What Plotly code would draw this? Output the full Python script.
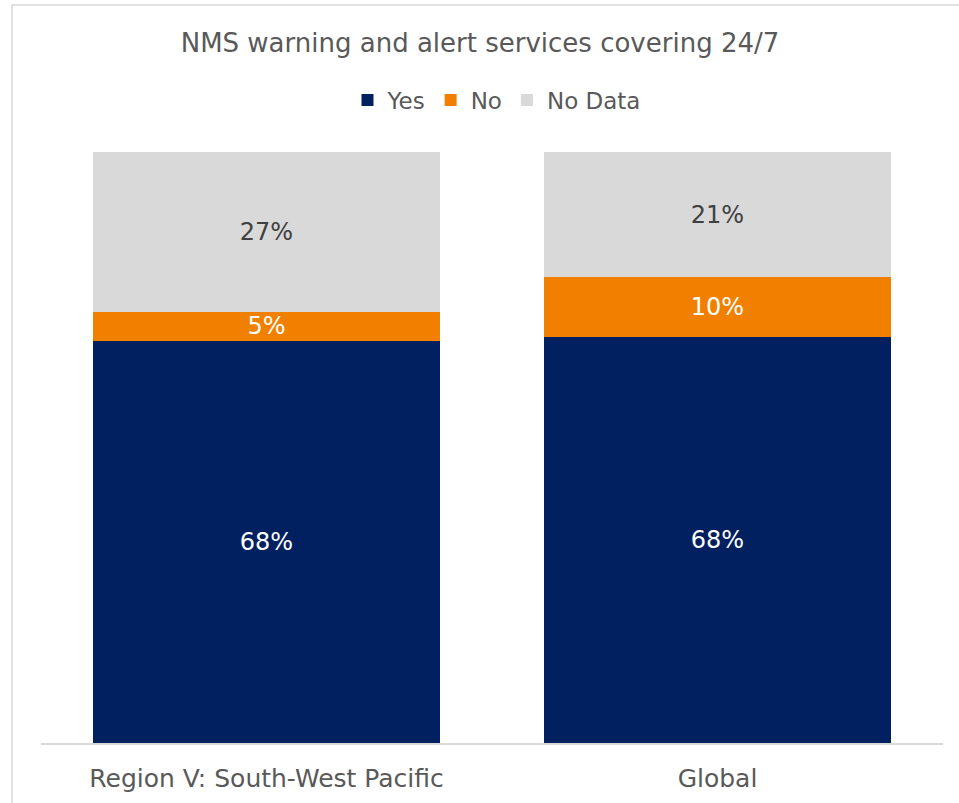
import plotly.graph_objects as go

categories = ["Region V: South-West Pacific", "Global"]
yes_vals = [68, 68]
no_vals = [5, 10]
nodata_vals = [27, 21]
series_names = ["Yes", "No", "No Data"]

colors = ["#002060", "#F28000", "#D9D9D9"]
text_colors = ["#FFFFFF", "#FFFFFF", "#404040"]
FONT = "DejaVu Sans"

fig = go.Figure()
for name, vals, c, tc in zip(series_names, [yes_vals, no_vals, nodata_vals], colors, text_colors):
    fig.add_trace(go.Bar(
        name=name, x=categories, y=vals,
        marker=dict(color=c, line=dict(width=0)),
        text=[f"{v}%" for v in vals], texttemplate="%{text}",
        textposition="inside", insidetextanchor="middle", textangle=0,
        constraintext="none",
        textfont=dict(family=FONT, size=24, color=tc),
        hoverinfo="skip",
    ))

L, R, T, B = 41, 16, 152, 60
W, H = 959, 803
pw, ph = W - L - R, H - T - B

fig.update_layout(
    width=W, height=H,
    barmode="stack", barnorm="percent", bargap=0.23,
    margin=dict(l=L, r=R, t=T, b=B, autoexpand=False),
    paper_bgcolor="white", plot_bgcolor="white",
    font=dict(family=FONT, color="#595959"),
    title=dict(text="NMS warning and alert services covering 24/7",
               x=480 / W, xanchor="center", xref="container",
               y=1 - 43 / H, yanchor="middle", yref="container",
               font=dict(family=FONT, size=26, color="#595959")),
    legend=dict(orientation="h", x=(496.5 - L) / pw, xanchor="center",
                y=(H - B - 100) / ph, yanchor="middle",
                font=dict(family=FONT, size=23, color="#595959"),
                traceorder="normal", itemwidth=30, tracegroupgap=0),
    xaxis=dict(showline=True, linecolor="#D9D9D9", linewidth=1.5,
               showgrid=False, ticks="", ticklabelstandoff=12, automargin=False,
               tickfont=dict(family=FONT, size=25, color="#595959")),
    yaxis=dict(range=[0, 100], visible=False, showgrid=False, automargin=False),
    showlegend=True,
)

fig.add_shape(type="rect", xref="paper", yref="paper",
              x0=(12 - L) / pw, x1=(975 - L) / pw,
              y0=(H - B - 815) / ph, y1=(H - B - 5) / ph,
              line=dict(color="#D9D9D9", width=1.5), fillcolor="rgba(0,0,0,0)", layer="below")

fig.write_html("out.html")
